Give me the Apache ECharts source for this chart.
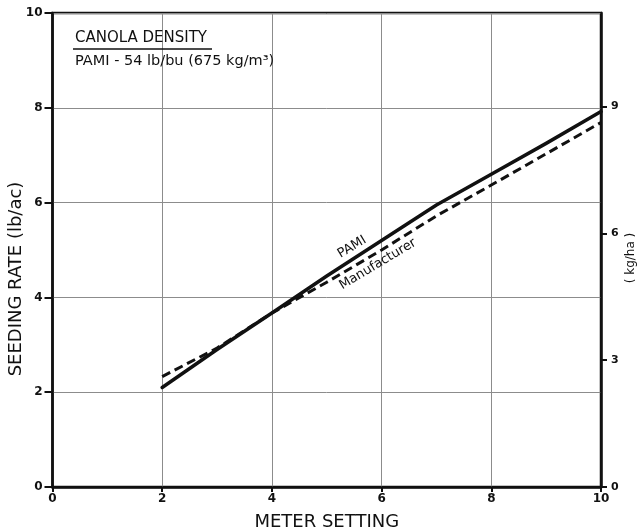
<!DOCTYPE html>
<html>
<head>
<meta charset="utf-8">
<script src="https://cdn.jsdelivr.net/npm/echarts@6/dist/echarts.min.js"></script>
<style>
html,body{margin:0;padding:0;background:#fff;}
#chart{width:637px;height:531px;}
</style>
</head>
<body>
<div id="chart"></div>
<script>
// ---- data ----
const meterSetting = [2, 3, 4, 5, 6, 7, 8, 9, 10];
const pamiRate = [2.1, 2.9, 3.67, 4.45, 5.2, 5.95, 6.6, 7.25, 7.92];
const manufacturerRate = [2.33, 2.93, 3.67, 4.32, 5.0, 5.72, 6.37, 7.03, 7.69];
const seriesNames = ['PAMI', 'Manufacturer'];
const xTickValues = [0, 2, 4, 6, 8, 10];
const yTickValuesLb = [0, 2, 4, 6, 8, 10];
const yTickValuesKg = [0, 3, 6, 9];
const titleText = 'CANOLA DENSITY';
const subtitleText = 'PAMI - 54 lb/bu (675 kg/m³)';
const xName = 'METER SETTING';
const yNameLeft = 'SEEDING RATE (lb/ac)';
const yNameRight = '( kg/ha )';
const LB_TO_KG = 1.12085;

const FONT = 'DejaVu Sans';
const INK = '#111';

const chart = echarts.init(document.getElementById('chart'), null, {renderer: 'canvas'});

const pamiData = meterSetting.map((x, i) => [x, pamiRate[i]]);
const manuData = meterSetting.map((x, i) => [x, manufacturerRate[i]]);

const option = {
  animation: false,
  backgroundColor: '#fff',
  grid: {left: 52.5, right: 36, top: 13, bottom: 44, containLabel: false, outerBoundsMode: 'none',
    show: true, borderColor: INK, borderWidth: 2.5, backgroundColor: 'transparent'},
  xAxis: [{
    type: 'value', min: xTickValues[0], max: xTickValues[xTickValues.length - 1], interval: 2,
    position: 'bottom',
    axisLine: {show: true, onZero: false, lineStyle: {color: INK, width: 2.5}},
    axisTick: {show: true, length: 5, lineStyle: {color: INK, width: 2}},
    axisLabel: {color: INK, fontFamily: FONT, fontSize: 12, fontWeight: 'bold', margin: 6},
    splitLine: {show: true, lineStyle: {color: '#8c8c8c', width: 1}},
    name: xName, nameLocation: 'middle', nameGap: 26, nameMoveOverlap: false,
    nameTextStyle: {color: INK, fontFamily: FONT, fontSize: 18}
  }],
  yAxis: [{
    type: 'value', min: yTickValuesLb[0], max: yTickValuesLb[yTickValuesLb.length - 1], interval: 2,
    position: 'left',
    axisLine: {show: true, onZero: false, lineStyle: {color: INK, width: 2.5}},
    axisTick: {show: true, length: 8, lineStyle: {color: INK, width: 2}},
    axisLabel: {color: INK, fontFamily: FONT, fontSize: 12, fontWeight: 'bold', margin: 10},
    splitLine: {show: true, lineStyle: {color: '#8c8c8c', width: 1}},
    name: yNameLeft, nameLocation: 'middle', nameGap: 27, nameRotate: 90, nameMoveOverlap: false,
    nameTextStyle: {color: INK, fontFamily: FONT, fontSize: 18, padding: [0, 58, 0, 0]}
  }, {
    type: 'value', min: 0, max: yTickValuesLb[yTickValuesLb.length - 1] * LB_TO_KG, interval: 3,
    position: 'right',
    axisLine: {show: true, onZero: false, lineStyle: {color: INK, width: 2.5}},
    axisTick: {show: true, length: 6, lineStyle: {color: INK, width: 2}},
    axisLabel: {color: INK, fontFamily: FONT, fontSize: 11, fontWeight: 'bold', margin: 10, showMaxLabel: false,
      formatter: v => yTickValuesKg.indexOf(v) >= 0 ? String(v) : ''},
    splitLine: {show: false},
    name: yNameRight, nameLocation: 'middle', nameGap: 24, nameRotate: 90, nameMoveOverlap: false,
    nameTextStyle: {color: INK, fontFamily: FONT, fontSize: 12, padding: [0, 16, 0, 0]}
  }],
  series: [{
    name: seriesNames[0], type: 'line', xAxisIndex: 0, yAxisIndex: 0,
    data: pamiData, showSymbol: false, symbol: 'none', z: 3,
    lineStyle: {color: INK, width: 3.5, type: 'solid', cap: 'round', join: 'round'}
  }, {
    name: seriesNames[1], type: 'line', xAxisIndex: 0, yAxisIndex: 0,
    data: manuData, showSymbol: false, symbol: 'none', z: 2,
    lineStyle: {color: INK, width: 3, type: [9, 5], join: 'round'}
  }]
};
chart.setOption(option);

// annotations positioned from data coordinates
const pamiLabelPos = chart.convertToPixel({xAxisIndex: 0, yAxisIndex: 0}, [5.46, 5.06]);
const manuLabelPos = chart.convertToPixel({xAxisIndex: 0, yAxisIndex: 0}, [5.93, 4.70]);
const ang = 31 * Math.PI / 180;

chart.setOption({
  graphic: [
    {type: 'text', left: 75, top: 31, style: {text: titleText, font: '15px "' + FONT + '"', fill: INK}},
    {type: 'line', shape: {x1: 73, y1: 49, x2: 212, y2: 49}, style: {stroke: INK, lineWidth: 1.5}},
    {type: 'text', left: 75, top: 54, style: {text: subtitleText, font: '14.5px "' + FONT + '"', fill: INK}},
    {type: 'text', x: pamiLabelPos[0], y: pamiLabelPos[1], rotation: ang,
      style: {text: seriesNames[0], font: '13px "' + FONT + '"', fill: INK, align: 'center', verticalAlign: 'middle'}},
    {type: 'text', x: manuLabelPos[0], y: manuLabelPos[1], rotation: ang,
      style: {text: seriesNames[1], font: '13px "' + FONT + '"', fill: INK, align: 'center', verticalAlign: 'middle'}}
  ]
});
</script>
</body>
</html>
